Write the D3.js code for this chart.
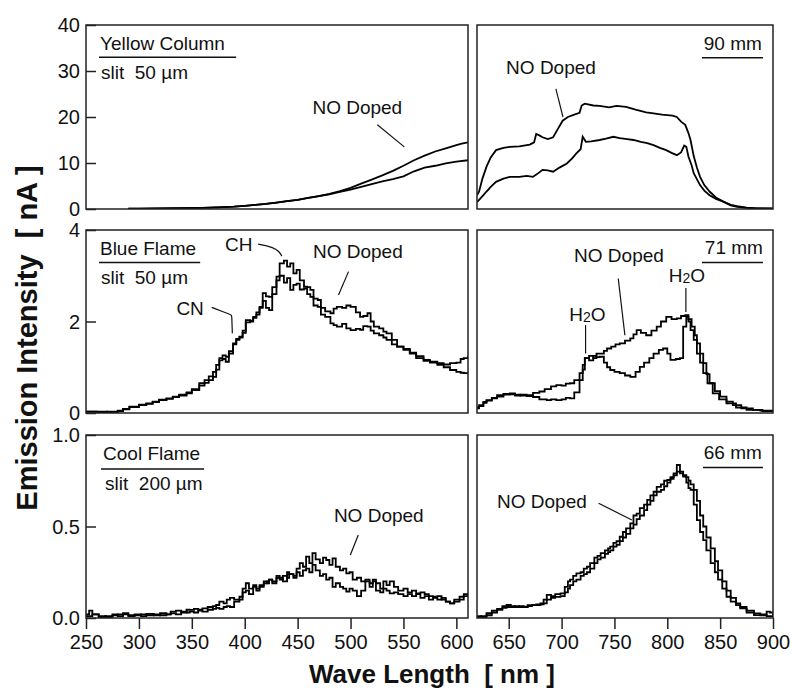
<!DOCTYPE html>
<html><head><meta charset="utf-8">
<script src="https://cdn.jsdelivr.net/npm/d3@7"></script>
<style>
html,body{margin:0;padding:0;background:#fff;}
svg{display:block;}
text{font-family:'Liberation Sans',Arial,sans-serif;fill:#111;}
</style></head>
<body>
<svg id="chart" width="792" height="691"></svg>
<script>
// ---------------- DATA (wavelength nm, intensity) ----------------
const xTicksLeft = [250,300,350,400,450,500,550,600];
const xTicksRight = [650,700,750,800,850,900];
const yTicksTop = [0,10,20,30,40];
const yTicksMid = [0,2,4];
const yTicksBot = [0,0.5,1.0];

// Yellow Column, left (nA)
const yellowL_doped = [[290,0.1],[300,0.1],[320,0.15],[340,0.2],[360,0.25],[380,0.4],[390,0.5],[400,0.7],[410,0.9],[420,1.1],[430,1.4],[440,1.7],[450,2.0],[460,2.4],[470,2.8],[480,3.3],[490,3.9],[500,4.6],[510,5.5],[520,6.4],[530,7.3],[540,8.3],[550,9.4],[560,10.6],[570,11.6],[580,12.5],[590,13.2],[600,13.9],[605,14.2],[611,14.5]];
const yellowL_base = [[290,0.1],[300,0.1],[320,0.15],[340,0.2],[360,0.25],[380,0.4],[390,0.5],[400,0.7],[410,0.9],[420,1.1],[430,1.4],[440,1.7],[450,2.0],[460,2.4],[470,2.8],[480,3.2],[490,3.7],[500,4.2],[510,4.8],[520,5.4],[530,6.0],[540,6.5],[550,7.1],[560,8.2],[570,9.0],[580,9.4],[590,9.9],[600,10.3],[611,10.6]];
// Yellow Column, right
const yellowR_doped = [[620,3.0],[622,3.8],[625,6.5],[629,9.2],[633,11.2],[638,12.8],[645,13.3],[651,13.5],[660,13.6],[670,14.0],[674,14.5],[676,16.3],[679,16.0],[682,15.6],[687,15.2],[692,15.6],[696,17.2],[701,19.2],[706,20.0],[712,20.5],[717,20.9],[719,22.5],[722,22.9],[730,22.5],[736,22.4],[745,22.1],[752,22.4],[761,22.2],[770,21.6],[780,21.0],[787,20.8],[795,20.5],[805,20.3],[809,20.0],[813,19.0],[817,18.3],[820,16.5],[822,15.0],[825,11.5],[828,9.0],[831,7.0],[835,5.2],[840,3.8],[846,2.5],[853,1.6],[860,0.8],[865,0.5],[875,0.25],[885,0.15],[900,0.15]];
const yellowR_base = [[620,1.5],[622,2.0],[626,3.0],[629,3.8],[633,4.8],[638,5.9],[645,6.6],[651,7.0],[660,7.0],[667,7.2],[673,7.0],[678,7.8],[682,8.5],[687,8.4],[692,8.1],[698,9.0],[705,9.9],[710,11.0],[714,12.1],[718,13.0],[720,15.7],[723,14.6],[728,14.7],[736,15.0],[742,15.3],[749,15.7],[755,15.4],[762,15.2],[768,15.0],[775,14.6],[781,14.3],[787,13.9],[793,13.3],[799,12.8],[804,12.2],[809,11.7],[813,12.3],[816,13.8],[818,13.5],[820,11.4],[823,9.5],[825,7.8],[828,6.5],[831,5.2],[835,4.0],[840,3.0],[846,2.2],[853,1.6],[860,0.9],[866,0.6],[875,0.3],[885,0.15],[900,0.1]];

// Blue Flame, left
const blueL_doped = [[250,0.03],[260,0.02],[270,0.03],[280,0.04],[285,0.09],[291,0.14],[300,0.17],[307,0.21],[313,0.25],[319,0.28],[326,0.31],[332,0.36],[338,0.4],[345,0.43],[350,0.52],[357,0.65],[362,0.72],[366,0.8],[370,0.9],[373,1.05],[376,1.2],[379,1.26],[382,1.23],[385,1.35],[389,1.52],[392,1.6],[395,1.67],[398,1.75],[401,2.03],[405,2.0],[408,2.1],[411,2.2],[414,2.32],[417,2.62],[420,2.55],[423,2.54],[426,2.75],[430,2.98],[433,3.27],[437,3.33],[440,3.2],[443,3.27],[446,3.05],[449,3.13],[452,2.9],[456,2.76],[459,2.75],[462,2.69],[465,2.5],[469,2.47],[472,2.3],[476,2.22],[481,2.18],[484,2.28],[487,2.32],[492,2.3],[496,2.35],[500,2.32],[505,2.2],[509,2.1],[512,2.12],[516,2.18],[519,2.0],[522,1.89],[527,1.85],[531,1.78],[534,1.74],[539,1.6],[544,1.45],[550,1.4],[556,1.3],[562,1.24],[569,1.16],[575,1.12],[582,1.09],[588,1.06],[594,1.09],[600,1.1],[604,1.18],[607,1.2],[611,1.25]];
const blueL_base = [[250,0.03],[260,0.03],[270,0.02],[280,0.05],[285,0.08],[291,0.13],[300,0.18],[307,0.2],[313,0.24],[319,0.29],[326,0.32],[332,0.35],[338,0.38],[345,0.45],[350,0.5],[357,0.6],[362,0.66],[366,0.72],[370,0.79],[373,0.95],[376,1.15],[379,1.18],[382,1.12],[385,1.3],[389,1.5],[392,1.62],[395,1.65],[398,1.8],[401,1.98],[405,2.02],[408,2.08],[411,2.15],[414,2.3],[417,2.45],[420,2.3],[423,2.25],[426,2.6],[430,2.9],[433,3.0],[437,2.85],[440,2.95],[443,2.69],[446,2.8],[449,2.83],[452,2.7],[456,2.72],[459,2.6],[462,2.54],[465,2.35],[469,2.32],[472,2.15],[476,2.1],[481,1.96],[484,1.92],[487,1.89],[492,1.95],[496,1.85],[500,1.81],[505,1.84],[509,1.82],[512,1.9],[516,1.89],[519,1.8],[522,1.74],[527,1.7],[531,1.65],[534,1.6],[539,1.5],[544,1.45],[550,1.38],[556,1.32],[562,1.2],[569,1.14],[575,1.1],[582,1.05],[588,1.0],[594,0.94],[600,0.9],[604,0.88],[607,0.87],[611,0.87]];
// Blue Flame, right
const blueR_doped = [[620,0.12],[622,0.17],[626,0.24],[629,0.28],[634,0.33],[639,0.39],[645,0.42],[651,0.43],[656,0.4],[661,0.38],[667,0.39],[673,0.44],[679,0.47],[684,0.52],[690,0.58],[695,0.61],[700,0.6],[704,0.64],[708,0.65],[712,0.72],[717,0.87],[720,1.05],[722,1.2],[726,1.25],[730,1.2],[733,1.3],[736,1.3],[740,1.36],[743,1.41],[747,1.45],[751,1.5],[755,1.52],[760,1.58],[765,1.63],[768,1.72],[771,1.81],[775,1.75],[780,1.7],[785,1.8],[790,1.89],[794,2.0],[799,2.1],[804,2.05],[809,2.07],[813,2.12],[817,2.14],[820,2.0],[822,1.81],[825,1.6],[828,1.3],[831,1.1],[834,0.87],[838,0.65],[843,0.43],[849,0.3],[856,0.21],[865,0.12],[875,0.07],[888,0.05],[900,0.03]];
const blueR_base = [[620,0.1],[622,0.15],[626,0.22],[629,0.27],[634,0.32],[639,0.36],[645,0.4],[651,0.41],[656,0.38],[661,0.4],[667,0.37],[673,0.35],[679,0.3],[686,0.28],[690,0.3],[695,0.28],[700,0.3],[704,0.33],[708,0.32],[712,0.45],[717,0.72],[720,0.95],[722,1.2],[726,1.15],[730,1.25],[733,1.22],[736,1.23],[740,1.1],[743,1.0],[746,0.94],[750,0.9],[755,0.87],[760,0.82],[765,0.79],[770,0.9],[774,1.01],[778,1.1],[783,1.2],[787,1.3],[792,1.38],[796,1.41],[800,1.3],[803,1.16],[808,1.18],[812,1.2],[815,1.89],[818,2.1],[820,2.05],[823,1.89],[826,1.7],[828,1.52],[831,1.3],[834,1.09],[837,0.85],[840,0.65],[845,0.48],[850,0.36],[856,0.25],[862,0.17],[870,0.1],[881,0.07],[890,0.04],[900,0.03]];

// Cool Flame, left
const coolL_doped = [[250,0.02],[253,0.04],[256,0.02],[262,0.01],[269,0.005],[275,0.015],[280,0.02],[285,0.026],[290,0.01],[296,0.015],[302,0.02],[307,0.022],[314,0.015],[320,0.026],[326,0.02],[330,0.035],[335,0.04],[340,0.03],[345,0.045],[348,0.044],[352,0.05],[356,0.045],[360,0.053],[365,0.06],[370,0.065],[373,0.071],[376,0.089],[380,0.08],[383,0.1],[386,0.11],[390,0.1],[395,0.116],[398,0.16],[401,0.19],[404,0.16],[408,0.18],[411,0.15],[414,0.17],[418,0.2],[421,0.19],[423,0.21],[426,0.2],[430,0.23],[433,0.22],[436,0.2],[440,0.25],[442,0.24],[446,0.22],[449,0.27],[452,0.3],[455,0.28],[458,0.335],[461,0.3],[464,0.354],[467,0.32],[471,0.3],[474,0.33],[477,0.317],[480,0.29],[483,0.326],[486,0.28],[490,0.26],[493,0.27],[496,0.244],[499,0.25],[502,0.21],[506,0.22],[510,0.2],[514,0.21],[518,0.17],[521,0.2],[524,0.19],[528,0.16],[531,0.2],[534,0.18],[537,0.2],[541,0.17],[545,0.15],[550,0.16],[554,0.14],[558,0.15],[562,0.135],[566,0.14],[570,0.13],[574,0.12],[578,0.116],[582,0.12],[586,0.1],[590,0.09],[594,0.08],[598,0.1],[603,0.116],[607,0.12],[611,0.135]];
const coolL_base = [[250,0.01],[256,0.02],[262,0.005],[268,0.01],[275,0.02],[280,0.01],[285,0.02],[290,0.015],[296,0.02],[302,0.01],[307,0.015],[314,0.02],[320,0.015],[326,0.02],[330,0.025],[335,0.02],[340,0.035],[345,0.03],[348,0.035],[352,0.03],[356,0.04],[360,0.035],[365,0.045],[370,0.05],[373,0.055],[376,0.05],[380,0.06],[383,0.065],[386,0.06],[390,0.09],[395,0.1],[398,0.14],[401,0.15],[404,0.13],[408,0.17],[411,0.16],[414,0.18],[418,0.19],[421,0.2],[423,0.21],[426,0.19],[430,0.22],[433,0.21],[436,0.23],[440,0.22],[442,0.24],[446,0.23],[449,0.25],[452,0.23],[455,0.26],[458,0.27],[461,0.25],[464,0.29],[467,0.26],[471,0.23],[474,0.24],[477,0.21],[480,0.22],[483,0.17],[486,0.19],[490,0.17],[493,0.16],[496,0.144],[499,0.16],[502,0.15],[506,0.12],[510,0.15],[514,0.2],[518,0.19],[521,0.21],[524,0.15],[528,0.14],[531,0.16],[534,0.15],[537,0.135],[541,0.14],[545,0.13],[550,0.12],[554,0.13],[558,0.12],[562,0.13],[566,0.11],[570,0.12],[574,0.1],[578,0.11],[582,0.1],[586,0.11],[590,0.09],[594,0.08],[598,0.09],[603,0.1],[607,0.13],[611,0.12]];
// Cool Flame, right
const coolR_doped = [[620,0.005],[624,0.01],[629,0.026],[634,0.04],[639,0.05],[644,0.065],[648,0.071],[652,0.06],[656,0.065],[660,0.06],[664,0.062],[668,0.07],[672,0.07],[676,0.075],[680,0.08],[683,0.1],[686,0.126],[690,0.12],[694,0.13],[699,0.135],[703,0.17],[706,0.2],[708,0.21],[711,0.23],[714,0.244],[718,0.25],[721,0.27],[724,0.28],[727,0.3],[731,0.33],[734,0.34],[737,0.354],[741,0.37],[744,0.38],[746,0.39],[749,0.41],[752,0.42],[755,0.444],[758,0.47],[761,0.49],[765,0.517],[768,0.56],[771,0.57],[774,0.6],[778,0.62],[781,0.645],[784,0.67],[787,0.69],[790,0.717],[794,0.73],[797,0.75],[800,0.754],[803,0.77],[806,0.79],[809,0.836],[812,0.8],[815,0.772],[818,0.74],[820,0.71],[822,0.7],[825,0.62],[828,0.535],[831,0.47],[834,0.426],[837,0.37],[841,0.3],[845,0.25],[848,0.21],[852,0.16],[856,0.116],[860,0.09],[865,0.07],[869,0.053],[875,0.03],[882,0.016],[888,0.02],[894,0.035],[897,0.03],[900,0.02]];
const coolR_base = [[620,0.01],[624,0.005],[629,0.015],[634,0.03],[639,0.045],[644,0.055],[648,0.06],[652,0.065],[656,0.06],[660,0.065],[664,0.06],[668,0.065],[672,0.07],[676,0.07],[680,0.075],[683,0.08],[686,0.1],[690,0.11],[694,0.115],[699,0.12],[703,0.14],[706,0.16],[708,0.18],[711,0.2],[714,0.21],[718,0.23],[721,0.24],[724,0.25],[727,0.27],[731,0.3],[734,0.32],[737,0.33],[741,0.35],[744,0.36],[746,0.37],[749,0.39],[752,0.4],[755,0.42],[758,0.44],[761,0.46],[765,0.49],[768,0.51],[771,0.54],[774,0.56],[778,0.59],[781,0.62],[784,0.64],[787,0.67],[790,0.69],[794,0.7],[797,0.72],[800,0.74],[803,0.76],[806,0.78],[809,0.8],[812,0.79],[815,0.78],[818,0.77],[820,0.75],[822,0.73],[825,0.7],[828,0.64],[831,0.56],[834,0.5],[837,0.44],[841,0.38],[845,0.31],[848,0.26],[852,0.2],[856,0.15],[860,0.11],[865,0.08],[869,0.06],[875,0.04],[882,0.025],[888,0.015],[894,0.01],[900,0.02]];

// ---------------- LAYOUT ----------------
const svg = d3.select("#chart");
const xL = d3.scaleLinear().domain([250,611]).range([86,468]);
const xR = d3.scaleLinear().domain([620,900]).range([477,773]);
const rows = [
  {y: d3.scaleLinear().domain([0,40]).range([209,25]), ticks: yTicksTop, fmt: d3.format("d"), curve: d3.curveLinear,
   left:[yellowL_doped,yellowL_base], right:[yellowR_doped,yellowR_base]},
  {y: d3.scaleLinear().domain([0,4]).range([413,230]), ticks: yTicksMid, fmt: d3.format("d"), curve: d3.curveStepAfter,
   left:[blueL_doped,blueL_base], right:[blueR_doped,blueR_base]},
  {y: d3.scaleLinear().domain([0,1]).range([618,435]), ticks: yTicksBot, fmt: d3.format(".1f"), curve: d3.curveStepAfter,
   left:[coolL_doped,coolL_base], right:[coolR_doped,coolR_base]}
];
const FS_TICK = 20, FS_LAB = 19;

rows.forEach((r,i)=>{
  [[xL,r.left,"L"],[xR,r.right,"R"]].forEach(([x,series,side])=>{
    const [x0,x1] = x.range(); const [y0,y1] = r.y.range();
    const id = "clip"+i+side;
    svg.append("clipPath").attr("id",id).append("rect")
      .attr("x",x0).attr("y",y1).attr("width",x1-x0).attr("height",y0-y1);
    const line = d3.line().x(d=>x(d[0])).y(d=>r.y(d[1])).curve(r.curve);
    const g = svg.append("g").attr("clip-path",`url(#${id})`);
    series.forEach(s=>{
      g.append("path").attr("d",line(s)).attr("fill","none")
        .attr("stroke","#000").attr("stroke-width",1.8).attr("stroke-linejoin","miter");
    });
    svg.append("rect").attr("x",x0).attr("y",y1).attr("width",x1-x0).attr("height",y0-y1)
      .attr("fill","none").attr("stroke","#222").attr("stroke-width",1.5);
  });
  // y axis (inward ticks)
  const ax = d3.axisRight(r.y).tickValues(r.ticks).tickSize(10).tickFormat("");
  const ag = svg.append("g").attr("transform",`translate(${xL.range()[0]},0)`).call(ax);
  ag.select(".domain").remove();
  ag.selectAll("line").attr("stroke","#222").attr("stroke-width",1.5);
  r.ticks.forEach(t=>{
    svg.append("text").attr("x",80).attr("y",r.y(t)).attr("dy","0.36em")
      .attr("text-anchor","end").attr("font-size",FS_TICK).text(r.fmt(t));
  });
});

// x axes (bottom row, outward ticks)
const yB = rows[2].y.range()[0];
[[xL,xTicksLeft],[xR,xTicksRight]].forEach(([x,tv])=>{
  const g = svg.append("g").attr("transform",`translate(0,${yB})`)
    .call(d3.axisBottom(x).tickValues(tv).tickSize(11).tickPadding(6).tickFormat(d3.format("d")));
  g.select(".domain").remove();
  g.selectAll("line").attr("stroke","#222").attr("stroke-width",1.5);
  g.selectAll("text").attr("font-size",FS_TICK).attr("font-family","'Liberation Sans',Arial,sans-serif").attr("fill","#111");
});

// axis titles
svg.append("text").attr("x",432).attr("y",674).attr("dy","0.36em").attr("text-anchor","middle")
  .attr("font-size",26).attr("font-weight","bold").style("white-space","pre").text("Wave Length  [ nm ]");
svg.append("text").attr("transform","translate(27,338) rotate(-90)").attr("dy","0.36em")
  .attr("text-anchor","middle").attr("font-size",29).attr("font-weight","bold").style("white-space","pre")
  .text("Emission Intensity  [ nA ]");

// ---------------- ANNOTATIONS (data coordinates) ----------------
function label(x,y,nm,v,txt,anchor){
  return svg.append("text").attr("x",x(nm)).attr("y",y(v)).attr("dy","0.36em")
    .attr("text-anchor",anchor||"middle").attr("font-size",FS_LAB).style("white-space","pre").text(txt);
}
function pointer(x,y,pts){
  svg.append("path").attr("d",d3.line().x(d=>x(d[0])).y(d=>y(d[1])).curve(d3.curveBasis)(pts))
    .attr("fill","none").attr("stroke","#111").attr("stroke-width",1.2);
}
function rule(x,y,nm0,nm1,v){
  svg.append("line").attr("x1",x(nm0)).attr("x2",x(nm1)).attr("y1",y(v)).attr("y2",y(v))
    .attr("stroke","#111").attr("stroke-width",1.5);
}
function h2o(x,y,nm,v){
  const t = svg.append("text").attr("x",x(nm)).attr("y",y(v)).attr("dy","0.36em")
    .attr("text-anchor","middle").attr("font-size",FS_LAB);
  t.append("tspan").text("H");
  t.append("tspan").attr("font-size",14).attr("dy","1").text("2");
  t.append("tspan").attr("dy","-1").text("O");
}
const [y1,y2,y3] = rows.map(r=>r.y);
// Row 1
label(xL,y1,263.2,36.1,"Yellow Column","start");
rule(xL,y1,262.3,391.9,33.0);
label(xL,y1,264.2,29.8,"slit  50 µm","start");
label(xL,y1,506.4,22.2,"NO Doped");
pointer(xL,y1,[[525.3,18.3],[550.8,13.5]]);
label(xR,y1,690,30.9,"NO Doped");
pointer(xR,y1,[[694.6,26.1],[701.3,20.0]]);
label(xR,y1,862,36.1,"90 mm");
rule(xR,y1,832.8,890.5,32.9);
// Row 2
label(xL,y2,263.2,3.61,"Blue Flame","start");
rule(xL,y2,262.3,357.9,3.29);
label(xL,y2,264.2,2.98,"slit  50 µm","start");
label(xL,y2,394.3,3.69,"CH");
pointer(xL,y2,[[412.7,3.69],[420,3.66],[426,3.62],[432,3.55],[435.1,3.43]]);
label(xL,y2,348.4,2.30,"CN");
pointer(xL,y2,[[368.8,2.31],[387.7,2.14],[387.7,2.14],[388.3,1.74]]);
label(xL,y2,506.9,3.53,"NO Doped");
pointer(xL,y2,[[498.1,3.09],[488.6,2.58]]);
label(xR,y2,754.3,3.45,"NO Doped");
pointer(xR,y2,[[753.6,2.94],[759.9,1.70]]);
h2o(xR,y2,724.5,2.16);
pointer(xR,y2,[[722.7,1.92],[722.7,1.30]]);
h2o(xR,y2,818.6,3.02);
pointer(xR,y2,[[817.6,2.73],[817.6,2.21]]);
label(xR,y2,863,3.63,"71 mm");
rule(xR,y2,832.8,890.5,3.29);
// Row 3
label(xL,y3,266.1,0.902,"Cool Flame","start");
rule(xL,y3,264.2,361.6,0.814);
label(xL,y3,268,0.736,"slit  200 µm","start");
label(xL,y3,526.7,0.563,"NO Doped");
pointer(xL,y3,[[507.3,0.454],[499.8,0.344]]);
label(xR,y3,862,0.905,"66 mm");
rule(xR,y3,833.8,890.5,0.823);
label(xR,y3,681.4,0.636,"NO Doped");
pointer(xR,y3,[[735,0.627],[766.5,0.536]]);
</script>
</body></html>
